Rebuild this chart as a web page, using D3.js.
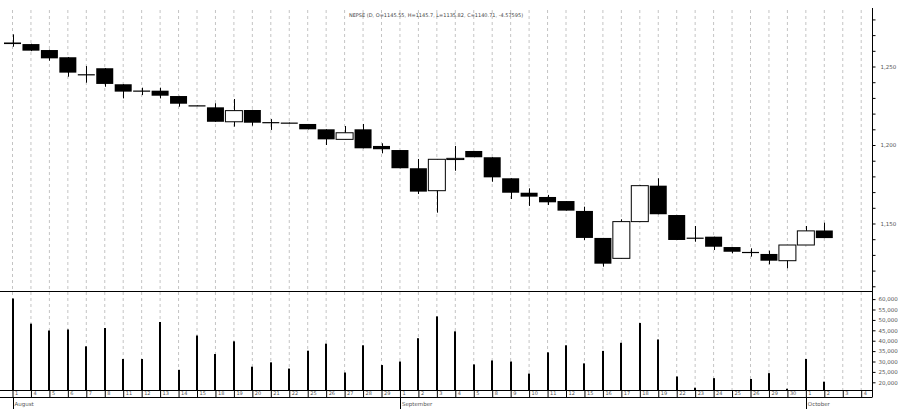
<!DOCTYPE html>
<html><head><meta charset="utf-8">
<script src="https://cdn.jsdelivr.net/npm/d3@7"></script>
<style>
body{margin:0;background:#fff}
svg{display:block}
text{font-family:"DejaVu Sans",Arial,sans-serif;fill:#555}
</style>
</head><body>
<svg id="chart" width="900" height="411"></svg>
<script>
// ---------- data ----------
const dates = ["2014-08-01","2014-08-04","2014-08-05","2014-08-06","2014-08-07","2014-08-08",
"2014-08-11","2014-08-12","2014-08-13","2014-08-14","2014-08-15",
"2014-08-18","2014-08-19","2014-08-20","2014-08-21","2014-08-22",
"2014-08-25","2014-08-26","2014-08-27","2014-08-28","2014-08-29",
"2014-09-01","2014-09-02","2014-09-03","2014-09-04","2014-09-05",
"2014-09-08","2014-09-09","2014-09-10","2014-09-11","2014-09-12",
"2014-09-15","2014-09-16","2014-09-17","2014-09-18","2014-09-19",
"2014-09-22","2014-09-23","2014-09-24","2014-09-25","2014-09-26",
"2014-09-29","2014-09-30","2014-10-01","2014-10-02"];
const axisDates = dates.concat(["2014-10-03","2014-10-04"]);
const dayLabels = axisDates.map(d => String(+d.slice(8)));

const open  = [1265.3,1264.3,1260.5,1255.9,1245.1,1248.9,1238.7,1234.7,1234.6,1231.2,1225.3,1224.0,1214.8,1222.3,1214.6,1214.3,1213.4,1210.0,1203.6,1210.0,1199.4,1196.8,1185.2,1170.9,1191.2,1196.2,1192.2,1178.8,1169.6,1166.9,1164.3,1158.0,1140.8,1127.8,1151.2,1174.1,1155.4,1141.0,1141.6,1135.0,1131.9,1130.6,1126.3,1136.3,1145.55];
const high  = [1270.5,1264.5,1260.7,1256.0,1250.3,1249.0,1238.8,1236.5,1236.5,1231.3,1225.3,1226.6,1229.3,1222.4,1216.5,1214.3,1213.4,1210.0,1212.1,1213.4,1201.1,1196.8,1191.1,1190.9,1199.4,1196.2,1192.2,1178.8,1172.4,1168.2,1164.3,1160.7,1140.8,1152.7,1174.5,1178.8,1155.4,1148.4,1141.6,1135.0,1134.2,1132.7,1136.3,1148.4,1150.5];
const low   = [1262.6,1259.8,1253.7,1243.5,1239.7,1237.1,1229.7,1231.8,1229.7,1224.4,1225.0,1214.8,1211.7,1212.3,1209.6,1213.8,1210.0,1200.0,1203.6,1197.9,1194.7,1185.2,1168.8,1156.9,1183.6,1192.2,1176.6,1165.6,1161.2,1161.8,1158.2,1139.5,1122.5,1127.8,1151.2,1155.9,1139.5,1138.4,1133.1,1131.0,1128.9,1124.0,1121.5,1136.3,1140.71];
const close = [1264.3,1260.1,1255.2,1246.1,1244.9,1238.9,1234.0,1234.5,1231.4,1226.3,1225.0,1214.8,1221.9,1214.2,1214.5,1213.8,1210.0,1203.6,1207.8,1197.9,1197.3,1185.2,1170.3,1190.9,1191.5,1192.2,1179.4,1169.6,1167.1,1163.5,1158.2,1140.8,1124.4,1151.2,1174.1,1155.9,1139.5,1140.8,1135.2,1132.0,1131.7,1126.3,1136.3,1145.3,1140.71];
const volume = [60300,48200,44900,45400,37300,46100,31200,31200,49000,26000,42500,33600,39700,27500,29600,26600,35200,38600,24700,37800,28300,30000,41200,51700,44500,28600,30500,30000,24200,34400,37800,29100,35100,39000,48500,40600,22800,17400,22000,16300,21600,24400,16900,31200,20300];

const priceTicks = d3.range(1110, 1290, 10);
const priceLabelTicks = [1150, 1200, 1250];
const volumeTicks = [20000,25000,30000,35000,40000,45000,50000,55000,60000];
const monthStarts = ["2014-08-01","2014-09-01","2014-10-01"];
const monthNames = ["August","September","October"];
const titleText = "NEPSE (D, O=1145.55, H=1145.7, L=1135.82, C=1140.71, -4.57595)";

// ---------- layout ----------
const plotL = 0, plotR = 872;
const mainTop = 10, mainBot = 291, volTop = 291, volBot = 390, axTop = 391, axBot = 397.5;

const svg = d3.select("#chart");
const x = d3.scalePoint().domain(axisDates).range([12.5, 861.2]);
const y = d3.scaleLinear().domain([1107, 1286]).range([mainBot, mainTop]);
const yv = d3.scaleLinear().domain([16300, 63900]).range([volBot, volTop]);

// gridlines
svg.append("g").selectAll("line").data(axisDates).join("line")
  .attr("x1", d => x(d)).attr("x2", d => x(d))
  .attr("y1", mainTop).attr("y2", volBot)
  .attr("stroke", "#c4c4c4").attr("stroke-width", 1).attr("stroke-dasharray", "3,3");

// title
svg.append("text").attr("x", 436).attr("y", 17).attr("text-anchor", "middle")
  .style("font-size", "5px").style("fill", "#444").text(titleText);

// candles
const candles = dates.map((d, i) => ({d, o: open[i], h: high[i], l: low[i], c: close[i], v: volume[i]}));
const bw = 17;
const cg = svg.append("g");
cg.selectAll("line.wick").data(candles).join("line").attr("class", "wick")
  .attr("x1", d => Math.round(x(d.d)) + 0.5).attr("x2", d => Math.round(x(d.d)) + 0.5)
  .attr("y1", d => y(d.h)).attr("y2", d => y(d.l))
  .attr("stroke", "#000").attr("stroke-width", 1);
cg.selectAll("rect.body").data(candles).join("rect").attr("class", "body")
  .attr("x", d => x(d.d) - bw / 2)
  .attr("width", bw)
  .attr("y", d => y(Math.max(d.o, d.c)))
  .attr("height", d => Math.max(1.2, Math.abs(y(d.o) - y(d.c))))
  .attr("fill", d => d.c > d.o ? "#fff" : "#000")
  .attr("stroke", d => d.c > d.o ? "#000" : "none")
  .attr("stroke-width", 1);

// volume bars
svg.append("g").selectAll("rect").data(candles).join("rect")
  .attr("x", d => Math.round(x(d.d)) - 1).attr("width", 2)
  .attr("y", d => yv(d.v)).attr("height", d => volBot - yv(d.v))
  .attr("fill", "#000");

// frame lines
const fr = svg.append("g").attr("stroke", "#000").attr("stroke-width", 1);
fr.append("line").attr("x1", plotL).attr("x2", plotR).attr("y1", volTop + 0.5).attr("y2", volTop + 0.5);
fr.append("line").attr("x1", plotL).attr("x2", plotR).attr("y1", axTop - 0.5).attr("y2", axTop - 0.5);
fr.append("line").attr("x1", plotL).attr("x2", plotR).attr("y1", axBot).attr("y2", axBot);
fr.append("line").attr("x1", plotR + 0.5).attr("x2", plotR + 0.5).attr("y1", 8).attr("y2", axBot);

// right price axis
const pAxis = d3.axisRight(y).tickValues(priceTicks).tickSize(3).tickSizeOuter(0)
  .tickFormat(d => priceLabelTicks.includes(d) ? d3.format(",")(d) : "");
const pg = svg.append("g").attr("transform", `translate(${plotR + 0.5},0)`).call(pAxis);
pg.select(".domain").remove();
pg.selectAll("text").attr("x", 8).style("font-size", "5.5px").style("fill", "#555");

// right volume axis
const vAxis = d3.axisRight(yv).tickValues(volumeTicks).tickSize(3).tickSizeOuter(0)
  .tickFormat(d3.format(","));
const vg = svg.append("g").attr("transform", `translate(${plotR + 0.5},0)`).call(vAxis);
vg.select(".domain").remove();
vg.selectAll("text").attr("x", 6).style("font-size", "5.5px").style("fill", "#555");

// bottom axis (days)
const xAxis = d3.axisBottom(x).tickFormat((d, i) => dayLabels[i]).tickSize(axBot - axTop + 0.5).tickSizeOuter(0);
const xg = svg.append("g").attr("transform", `translate(0,${axTop - 0.5})`).call(xAxis);
xg.select(".domain").remove();
xg.selectAll(".tick line").attr("stroke", "#000");
xg.selectAll("text").attr("x", 2).attr("y", 1.2).attr("dy", "0.71em")
  .style("text-anchor", "start").style("font-size", "5px").style("fill", "#555");

// month labels
const mg = svg.append("g");
mg.selectAll("line").data(monthStarts).join("line")
  .attr("x1", d => Math.round(x(d)) + 0.5).attr("x2", d => Math.round(x(d)) + 0.5)
  .attr("y1", axBot).attr("y2", 409).attr("stroke", "#000");
mg.selectAll("text").data(monthStarts).join("text")
  .attr("x", d => x(d) + 2).attr("y", 406)
  .style("font-size", "5.5px").text((d, i) => monthNames[i]);
</script>
</body></html>
